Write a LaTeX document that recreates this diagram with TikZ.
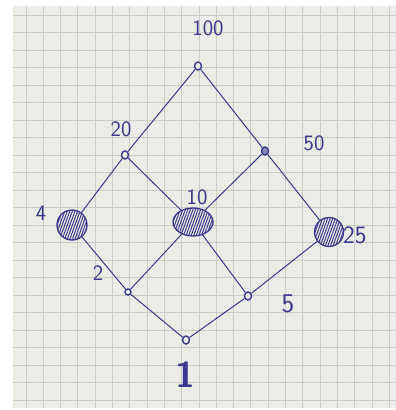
\documentclass[tikz,border=0pt]{standalone}
\usetikzlibrary{patterns.meta,shapes.geometric}
\definecolor{ink}{RGB}{58,56,140}
\definecolor{paper}{RGB}{236,236,231}
\definecolor{gridc}{RGB}{204,204,198}
\begin{document}
\begin{tikzpicture}[x=1pt,y=-1pt,
  edge/.style={draw=ink,line width=1pt},
  dot/.style={draw=ink,line width=1.4pt,fill=paper,inner sep=0pt,minimum width=7pt,minimum height=8pt,shape=ellipse},
  hatch/.style={draw=ink,line width=1.3pt,inner sep=0pt,shape=ellipse,
    pattern={Lines[angle=70,distance=2.4pt,line width=1pt]},pattern color=ink},
  lab/.style={text=ink,font=\sffamily\fontsize{22}{22}\selectfont,inner sep=0pt}]
\useasboundingbox (0,0) rectangle (396,410);
\fill[white] (0,0) rectangle (396,410);
\fill[paper] (13,6) rectangle (396,408);
\begin{scope}
\clip (13,6) rectangle (396,408);
\foreach \i in {0,...,22} {\draw[gridc,line width=0.9pt] (26+17.3*\i,6) -- (26+17.3*\i,408);}
\foreach \i in {0,...,23} {\draw[gridc,line width=0.9pt] (13,15+17.5*\i) -- (396,15+17.5*\i);}
\end{scope}
\node[dot] (n100) at (198,66) {};
\node[dot] (n20) at (125,155) {};
\node[dot,fill=ink!60] (n50) at (265,151) {};
\node[hatch,minimum width=30pt,minimum height=30pt] (n4) at (72,225) {};
\node[hatch,minimum width=40pt,minimum height=28pt] (n10) at (193,222) {};
\node[hatch,minimum width=29pt,minimum height=29pt] (n25) at (329,232) {};
\node[dot,minimum width=6pt,minimum height=6pt] (n2) at (128,292) {};
\node[dot] (n5) at (248,296) {};
\node[dot] (n1) at (186,340) {};
\draw[edge] (n100) -- (n20);
\draw[edge] (n100) -- (n50);
\draw[edge] (n20) -- (n4);
\draw[edge] (n20) -- (n10);
\draw[edge] (n50) -- (n10);
\draw[edge] (n50) -- (n25);
\draw[edge] (n4) -- (n2);
\draw[edge] (n10) -- (n2);
\draw[edge] (n10) -- (n5);
\draw[edge] (n25) -- (n5);
\draw[edge] (n2) -- (n1);
\draw[edge] (n5) -- (n1);
\node[lab] (l100) at (208,28) {100};
\node[lab] (l20) at (121,129) {20};
\node[lab] (l50) at (314,143) {50};
\node[lab] (l4) at (41,213) {4};
\node[lab] (l10) at (197,197) {10};
\node[lab,anchor=west,font=\sffamily\fontsize{25}{25}\selectfont] (l25) at (343,235) {25};
\node[lab] (l2) at (98,273) {2};
\node[lab,font=\sffamily\fontsize{27}{27}\selectfont] (l5) at (288,304) {5};
\node[lab,font=\sffamily\bfseries\fontsize{36}{36}\selectfont] (l1) at (185,375) {1};
\end{tikzpicture}
\end{document}
